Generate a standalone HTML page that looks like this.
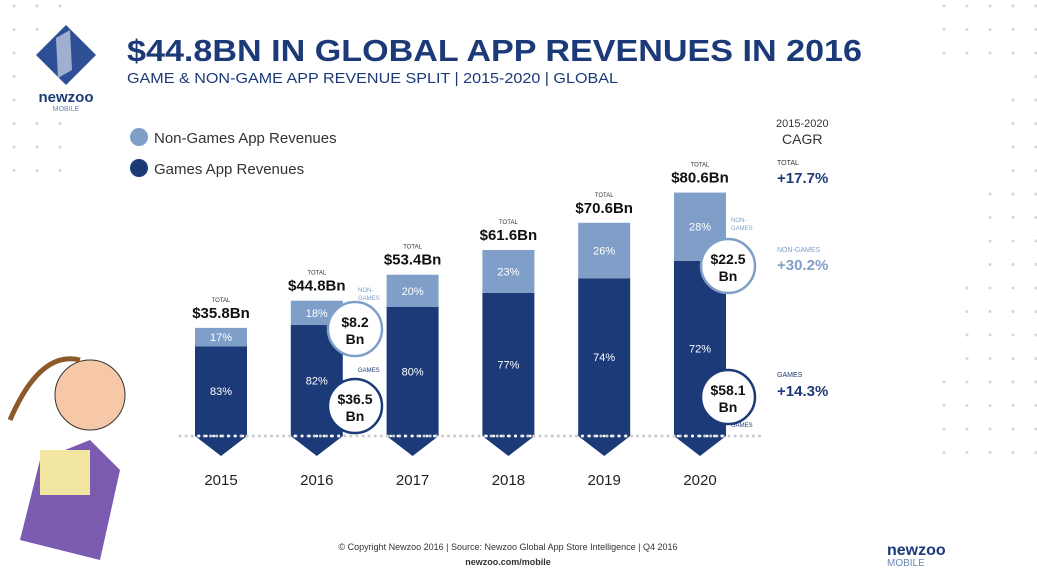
<!DOCTYPE html>
<html><head><meta charset="utf-8"><style>
body{margin:0;width:1037px;height:580px;background:#fff;overflow:hidden;font-family:"Liberation Sans",sans-serif}
svg text{font-family:"Liberation Sans",sans-serif}
</style></head><body>
<svg id="c" width="1037" height="580">
<g id="dots"></g>
<g>
<polygon points="66,25 96,55 66,85 36,55" fill="#2d4f95"/>
<polygon points="56,38 70,30 72,70 58,78" fill="#ffffff" opacity="0.55"/>
<text x="66" y="102" font-size="15" font-weight="bold" fill="#1c3a78" text-anchor="middle">newzoo</text>
<text x="66" y="111" font-size="7" fill="#6b86b5" text-anchor="middle">MOBILE</text>
</g>
<text x="127" y="61" font-size="31" font-weight="bold" fill="#1c3a78" textLength="735" lengthAdjust="spacingAndGlyphs">$44.8BN IN GLOBAL APP REVENUES IN 2016</text>
<text x="127" y="83" font-size="15" fill="#1c3a78" textLength="491" lengthAdjust="spacingAndGlyphs">GAME &amp; NON-GAME APP REVENUE SPLIT | 2015-2020 | GLOBAL</text>
<g>
<circle cx="139" cy="137" r="9" fill="#7f9fc9"/>
<text x="154" y="143" font-size="15" fill="#333">Non-Games App Revenues</text>
<circle cx="139" cy="168" r="9" fill="#1c3a78"/>
<text x="154" y="174" font-size="15" fill="#333">Games App Revenues</text>
</g>
<g>
<text x="776" y="127" font-size="11" fill="#333">2015-2020</text>
<text x="782" y="144" font-size="14" fill="#333">CAGR</text>
<text x="777" y="165" font-size="7" fill="#333">TOTAL</text>
<text x="777" y="183" font-size="15" font-weight="bold" fill="#1c3a78">+17.7%</text>
<text x="777" y="252" font-size="7" fill="#7f9fc9">NON-GAMES</text>
<text x="777" y="270" font-size="15" font-weight="bold" fill="#7f9fc9">+30.2%</text>
<text x="777" y="377" font-size="7" fill="#1c3a78">GAMES</text>
<text x="777" y="396" font-size="15" font-weight="bold" fill="#1c3a78">+14.3%</text>
</g>
<g id="bars"></g>
<line x1="180" y1="436" x2="765" y2="436" stroke="#ccc" stroke-width="3" stroke-linecap="round" stroke-dasharray="0.1 6"/>
<g id="wdots"></g>
<g id="circles"></g>
<g>
<path d="M20,540 L40,460 L90,440 L120,470 L100,560 Z" fill="#7a5bb0"/>
<circle cx="90" cy="395" r="35" fill="#f6c8a8" stroke="#333"/>
<path d="M10,420 Q40,350 80,360" stroke="#8a5a2a" stroke-width="5" fill="none"/>
<rect x="40" y="450" width="50" height="45" fill="#f3e6a0"/>
</g>
<text x="508" y="550" font-size="9" fill="#333" text-anchor="middle">© Copyright Newzoo 2016 | Source: Newzoo Global App Store Intelligence | Q4 2016</text>
<text x="508" y="565" font-size="9" font-weight="bold" fill="#333" text-anchor="middle">newzoo.com/mobile</text>
<text x="887" y="555" font-size="16" font-weight="bold" fill="#1c3a78">newzoo</text>
<text x="887" y="566" font-size="10" fill="#6b86b5">MOBILE</text>
</svg>
<script>
const years=["2015","2016","2017","2018","2019","2020"];
const totals=[35.8,44.8,53.4,61.6,70.6,80.6];
const nonGamePct=[17,18,20,23,26,28];
const gamePct=[83,82,80,77,74,72];
const NS="http://www.w3.org/2000/svg";
function mk(t,a,p){const e=document.createElementNS(NS,t);for(const k in a)e.setAttribute(k,a[k]);p.appendChild(e);return e;}
const base=436,k=3.02,bw=52;
function x(i){return 221+i*95.8;}
function y(v){return base-v*k;}
const bars=document.getElementById('bars');
years.forEach((yr,i)=>{
 const cx=x(i),top=y(totals[i]),split=top+totals[i]*nonGamePct[i]/100*k;
 const g=mk('path',{d:`M${cx-bw/2},${split} L${cx+bw/2},${split} L${cx+bw/2},${base} L${cx},${base+20} L${cx-bw/2},${base} Z`,fill:'#1c3a78'},bars);
 
 
 const n=mk('rect',{x:cx-bw/2,y:top,width:bw,height:split-top,fill:'#7f9fc9'},bars);
 
 
 let t=mk('text',{x:cx,y:(top+split)/2+4,'font-size':11,fill:'#fff','text-anchor':'middle'},bars);t.textContent=nonGamePct[i]+'%';
 
 
 t=mk('text',{x:cx,y:(split+base)/2+4,'font-size':11,fill:'#fff','text-anchor':'middle'},bars);t.textContent=gamePct[i]+'%';
 
 
 t=mk('text',{x:cx,y:top-26,'font-size':6,fill:'#333','text-anchor':'middle'},bars);t.textContent='TOTAL';
 t=mk('text',{x:cx,y:top-10,'font-size':15,'font-weight':'bold',fill:'#111','text-anchor':'middle'},bars);t.textContent='$'+totals[i]+'Bn';
 
 
 t=mk('text',{x:cx,y:485,'font-size':15,fill:'#222','text-anchor':'middle'},bars);t.textContent=yr;
 
 
});
const wd=document.getElementById('wdots');
years.forEach((yr,i)=>{for(let xx=x(i)-22;xx<=x(i)+22;xx+=7.3)mk('circle',{cx:xx,cy:base,r:1.4,fill:'#fff'},wd);});
const circ=document.getElementById('circles');
function bubble(cx,cy,l1,col,name,tag,ty){
 const c=mk('circle',{cx:cx,cy:cy,r:27,fill:'#fff',stroke:col,'stroke-width':2.5},circ);
 
 
 let t=mk('text',{x:cx,y:cy-2,'font-size':14,'font-weight':'bold',fill:'#111','text-anchor':'middle'},circ);t.textContent=l1;
 t=mk('text',{x:cx,y:cy+15,'font-size':14,'font-weight':'bold',fill:'#111','text-anchor':'middle'},circ);t.textContent='Bn';
 for(let j=0;j<tag.length;j++){t=mk('text',{x:cx+3,y:ty+j*8,'font-size':6,fill:col},circ);t.textContent=tag[j];}
}
bubble(355,329,'$8.2','#7f9fc9','bubble-2016-non-games',['NON-','GAMES'],292);
bubble(355,406,'$36.5','#1c3a78','bubble-2016-games',['GAMES'],372);
bubble(728,266,'$22.5','#7f9fc9','bubble-2020-non-games',['NON-','GAMES'],222);
bubble(728,397,'$58.1','#1c3a78','bubble-2020-games',['GAMES'],427);
const dots=document.getElementById('dots');
for(let r=0;r<8;r++){const yy=6+r*23.5;[14,37,60].forEach((xx,j)=>{if(!(r>=1&&r<=4&&j>0)||j==1&&r==1)mk('circle',{cx:xx,cy:yy,r:1.5,fill:'#d6d6d6'},dots);});}
for(let r=0;r<20;r++){[944,967,990,1013,1036].forEach((xx,j)=>{const yy=6+r*23.5;if(yy<540&&(j>=4-Math.floor(r/4)||r<3))mk('circle',{cx:xx,cy:yy,r:1.5,fill:'#d6d6d6'},dots);});}
</script>
</body></html>
